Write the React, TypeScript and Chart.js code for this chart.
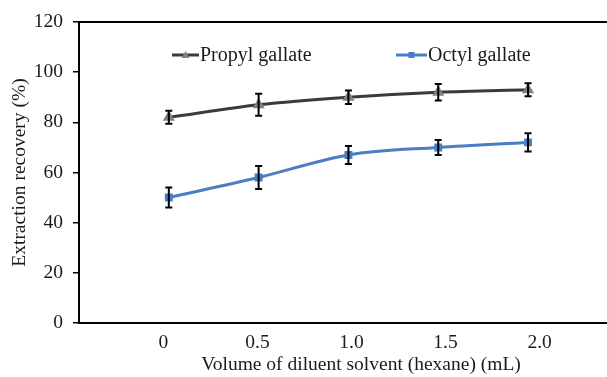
import React, { useEffect, useRef } from "react";
import { Chart, registerables } from "chart.js";

Chart.register(...registerables);

const xValues = [0, 0.5, 1.0, 1.5, 2.0];
const propylValues = [82, 87, 90, 92, 93];
const propylErrors = [2.6, 4.4, 2.7, 3.3, 2.6];
const octylValues = [50, 58, 67, 70, 72];
const octylErrors = [4, 4.6, 3.6, 3, 3.6];
const xTickValues = [0, 0.5, 1.0, 1.5, 2.0];
const seriesNames = ["Propyl gallate", "Octyl gallate"];

const FONT = "'Liberation Serif', 'Times New Roman', serif";
const CANVAS_W = 650;
const CANVAS_H = 377;

const errorBarPlugin = {
  id: "errorBars",
  afterDatasetsDraw(chart: any) {
    const ctx = chart.ctx;
    const yScale = chart.scales.y;
    const errs = [propylErrors, octylErrors];
    ctx.save();
    ctx.strokeStyle = "#000";
    ctx.lineWidth = 2;
    chart.data.datasets.forEach((ds: any, di: number) => {
      const meta = chart.getDatasetMeta(di);
      meta.data.forEach((pt: any, i: number) => {
        const v = ds.data[i].y;
        const e = errs[di][i];
        const top = yScale.getPixelForValue(v + e);
        const bot = yScale.getPixelForValue(v - e);
        const x = pt.x;
        ctx.beginPath();
        ctx.moveTo(x, top);
        ctx.lineTo(x, bot);
        ctx.moveTo(x - 3.5, top);
        ctx.lineTo(x + 3.5, top);
        ctx.moveTo(x - 3.5, bot);
        ctx.lineTo(x + 3.5, bot);
        ctx.stroke();
      });
    });
    ctx.restore();
  },
};

const frameAndLegendPlugin = {
  id: "frameLegend",
  afterDraw(chart: any) {
    const ctx = chart.ctx;
    const area = chart.chartArea;
    ctx.save();
    ctx.strokeStyle = "#000";
    ctx.lineWidth = 2;
    ctx.beginPath();
    ctx.moveTo(area.left, area.top);
    ctx.lineTo(area.right, area.top);
    ctx.stroke();

    const entries = [
      { x0: area.left + 93, x1: area.left + 120, ds: chart.data.datasets[0] },
      { x0: area.left + 317, x1: area.left + 348, ds: chart.data.datasets[1] },
    ];
    const ly = area.top + 33;
    entries.forEach((en) => {
      ctx.strokeStyle = en.ds.borderColor;
      ctx.lineWidth = 3;
      ctx.beginPath();
      ctx.moveTo(en.x0, ly);
      ctx.lineTo(en.x1, ly);
      ctx.stroke();
      const mx = (en.x0 + en.x1) / 2;
      ctx.fillStyle = en.ds.pointBackgroundColor;
      if (en.ds.pointStyle === "triangle") {
        ctx.beginPath();
        ctx.moveTo(mx, ly - 4);
        ctx.lineTo(mx + 4, ly + 3);
        ctx.lineTo(mx - 4, ly + 3);
        ctx.closePath();
        ctx.fill();
      } else {
        ctx.fillRect(mx - 3, ly - 3, 6, 6);
      }
      ctx.fillStyle = "#1a1a1a";
      ctx.font = `20px ${FONT}`;
      ctx.textBaseline = "middle";
      ctx.textAlign = "left";
      ctx.fillText(en.ds.label, en.x1 + 1, ly + 1);
    });
    ctx.restore();
  },
};

export default function App() {
  const ref = useRef<HTMLCanvasElement | null>(null);
  useEffect(() => {
    document.body.style.margin = "0";
    const canvas = ref.current!;
    const chart = new Chart(canvas, {
      type: "line",
      data: {
        datasets: [
          {
            label: seriesNames[0],
            data: xValues.map((x, i) => ({ x, y: propylValues[i] })),
            borderColor: "#3b3b3b",
            backgroundColor: "#808080",
            pointBackgroundColor: "#808080",
            pointBorderColor: "#808080",
            pointStyle: "triangle",
            pointRadius: 4,
            borderWidth: 3,
            cubicInterpolationMode: "monotone",
            xAxisID: "x",
          },
          {
            label: seriesNames[1],
            data: xValues.map((x, i) => ({ x, y: octylValues[i] })),
            borderColor: "#4a7dc4",
            backgroundColor: "#4a7dc4",
            pointBackgroundColor: "#4a7dc4",
            pointBorderColor: "#4a7dc4",
            pointStyle: "rect",
            pointRadius: 3.5,
            borderWidth: 3,
            cubicInterpolationMode: "monotone",
            xAxisID: "x",
          },
        ],
      },
      options: {
        animation: false,
        responsive: false,
        maintainAspectRatio: false,
        layout: { padding: { top: 22, right: 0, left: 0, bottom: 0 } },
        plugins: {
          legend: { display: false },
          tooltip: { enabled: false },
        },
        scales: {
          x: {
            type: "linear",
            display: false,
            min: -0.5,
            max: 2.64,
          },
          xLabels: {
            type: "linear",
            position: "bottom",
            min: -0.449,
            max: 2.55,
            afterBuildTicks: (scale: any) => {
              scale.ticks = xTickValues.map((v) => ({ value: v }));
            },
            afterFit: (scale: any) => {
              scale.height = 54;
              scale.paddingLeft = 0;
              scale.paddingRight = 0;
            },
            ticks: {
              color: "#1a1a1a",
              font: { family: FONT, size: 19.5 },
              padding: 8,
              maxRotation: 0,
              callback: (v: any) => (Number(v) === 0 ? "0" : Number(v).toFixed(1)),
            },
            grid: { display: true, drawOnChartArea: false, drawTicks: false, color: "rgba(0,0,0,0)" },
            border: { display: true, color: "#000", width: 2 },
            title: {
              display: true,
              text: "Volume of diluent solvent (hexane) (mL)",
              color: "#1a1a1a",
              font: { family: FONT, size: 19.5 },
              padding: { top: 7, bottom: 0 },
            },
          },
          y: {
            min: 0,
            max: 120,
            afterFit: (scale: any) => {
              scale.width = 79;
            },
            ticks: {
              stepSize: 20,
              color: "#1a1a1a",
              font: { family: FONT, size: 19.5 },
              padding: 10,
            },
            grid: { display: true, drawOnChartArea: false, drawTicks: true, tickLength: 6, color: "#000", lineWidth: 1.5 },
            border: { display: true, color: "#000", width: 2 },
            title: {
              display: true,
              text: "Extraction recovery (%)",
              color: "#1a1a1a",
              font: { family: FONT, size: 19.5 },
              padding: { top: 8, bottom: 0 },
            },
          },
        },
      },
      plugins: [errorBarPlugin, frameAndLegendPlugin],
    } as any);
    return () => chart.destroy();
  }, []);
  return (
    <div style={{ width: 607, height: CANVAS_H, overflow: "hidden", position: "relative" }}>
      <canvas
        ref={ref}
        width={CANVAS_W}
        height={CANVAS_H}
        style={{ display: "block", width: CANVAS_W, height: CANVAS_H }}
      />
    </div>
  );
}
